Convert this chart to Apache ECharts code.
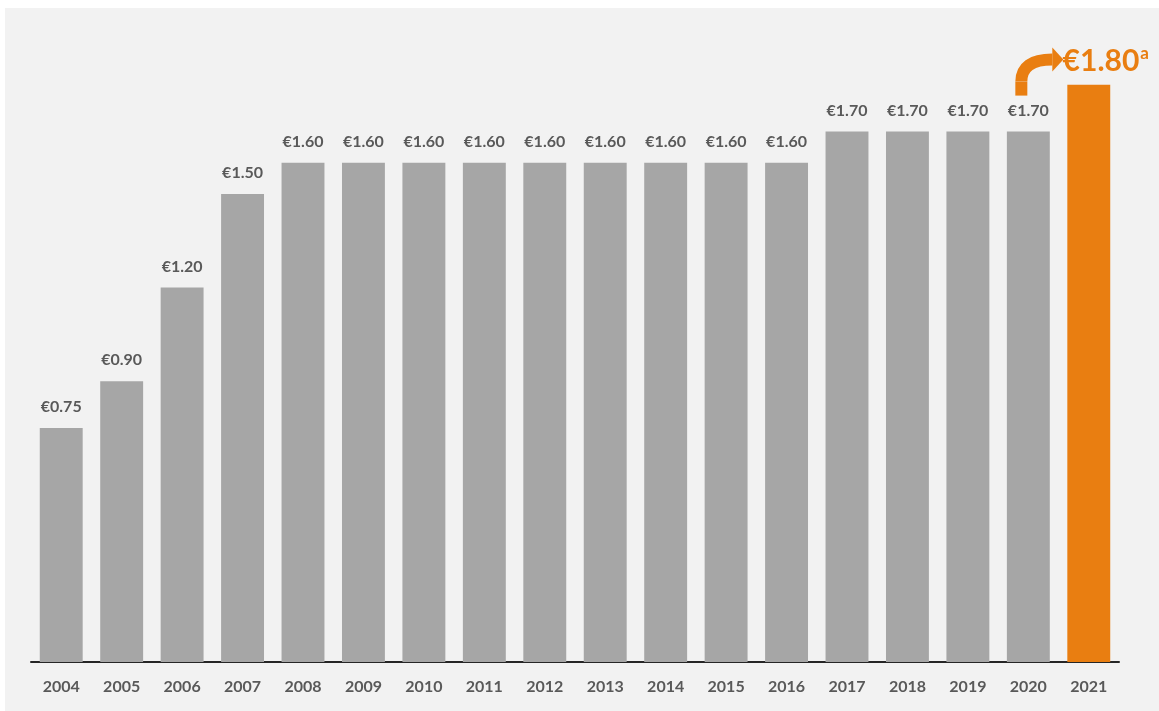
<!DOCTYPE html>
<html>
<head>
<meta charset="utf-8">
<script src="https://cdn.jsdelivr.net/npm/echarts@6/dist/echarts.min.js"></script>
<style>
html,body{margin:0;padding:0;background:#ffffff;}
#panel{position:absolute;left:5px;top:8px;width:1154px;height:703px;background:#f2f2f2;}
#chart{position:absolute;left:0;top:0;width:1159px;height:711px;}
</style>
</head>
<body>
<div id="panel"></div>
<div id="chart"></div>
<script>
const years = ['2004','2005','2006','2007','2008','2009','2010','2011','2012','2013','2014','2015','2016','2017','2018','2019','2020','2021'];
const dividends = [0.75,0.90,1.20,1.50,1.60,1.60,1.60,1.60,1.60,1.60,1.60,1.60,1.60,1.70,1.70,1.70,1.70,1.80];
// drawn height of the highlighted 2021 bar (visibly exaggerated in the reference)
const barHeights = [0.75,0.90,1.20,1.50,1.60,1.60,1.60,1.60,1.60,1.60,1.60,1.60,1.60,1.70,1.70,1.70,1.70,1.85];
const highlightIndex = 17;
const fmt = v => '€' + v.toFixed(2);

const chart = echarts.init(document.getElementById('chart'), null, {renderer:'canvas'});
const data = barHeights.map((h,i) => {
  if (i === highlightIndex) {
    return {
      value: h,
      itemStyle: {color: '#e97e11'},
      label: {
        formatter: '{big|' + fmt(dividends[i]) + '}{sup|a}',
        offset: [17, 6],
        rich: {
          big: {fontFamily:'Lato', fontWeight:'bold', fontSize:30, color:'#e97e11'},
          sup: {fontFamily:'Lato', fontWeight:'bold', fontSize:17, color:'#e97e11', verticalAlign:'top', padding:[0,0,16,1]}
        }
      }
    };
  }
  return {value: h};
});

chart.setOption({
  backgroundColor: 'transparent',
  animation: false,
  grid: {left: 31, right: 40, top: 38, bottom: 49},
  xAxis: {
    type: 'category',
    data: years,
    axisLine: {lineStyle: {color: '#262626', width: 2}},
    axisTick: {show: false},
    axisLabel: {fontFamily:'Lato', fontWeight:'bold', fontSize:16, color:'#595959', margin:17}
  },
  yAxis: {
    type: 'value', min: 0, max: 2.0,
    show: false,
    splitLine: {show:false}
  },
  series: [{
    type: 'bar',
    data: data,
    barWidth: '71%',
    itemStyle: {color: '#a6a6a6'},
    label: {
      show: true,
      position: 'top',
      distance: 13,
      fontFamily: 'Lato', fontWeight: 'bold', fontSize: 16, color: '#595959',
      formatter: p => fmt(dividends[p.dataIndex])
    }
  }]
});

// curved arrow annotation from the 2020 label to the 2021 label
const p20 = chart.convertToPixel({xAxisIndex:0, yAxisIndex:0}, [years[16], dividends[16]]);
const sx = p20[0] - 7, sy = p20[1] - 36;
const ex = sx + 31, ey = sy - 36;
chart.setOption({
  graphic: [
    {type:'line', shape:{x1:sx, y1:sy, x2:sx, y2:sy-14}, style:{stroke:'#e97e11', lineWidth:12}},
    {type:'bezierCurve', shape:{x1:sx, y1:sy-14, x2:ex, y2:ey, cpx1:sx, cpy1:ey}, style:{stroke:'#e97e11', lineWidth:12, fill:null}},
    {type:'polygon', shape:{points:[[ex, ey-12],[ex+11, ey],[ex, ey+12]]}, style:{fill:'#e97e11'}}
  ]
});
</script>
</body>
</html>
